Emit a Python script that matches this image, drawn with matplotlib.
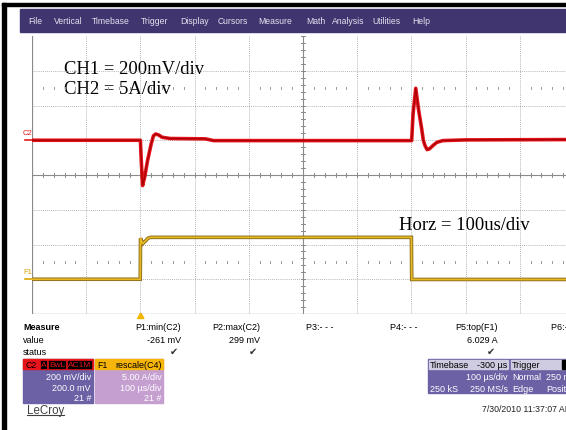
import matplotlib.pyplot as plt
from matplotlib.patches import Rectangle, Polygon

# C2 trace: time (us) and voltage (mV)
c2_t = [-500, -300, -298.5, -296, -292, -287, -280, -276, -272, -266, -260, -245, -180, -165,
        200.5, 203, 208, 213, 219, 222, 225, 229, 233, 240, 247, 258, 300, 500]
c2_mv = [0, 0, -110, -261, -210, -120, -20, 25, 36, 30, 17, 10, 8, -2,
         -2, 150, 299, 180, 65, 0, -30, -54, -50, -30, -12, -2, 2, 4]

# F1 trace: time (us) and current (A)
f1_t = [-500, -300.3, -299.8, -296, -292, -286, -281, 200, 200.6, 500]
f1_a = [0, 0, 5.9, 5.1, 5.4, 5.9, 6.03, 6.03, -0.03, -0.03]

c2_scale, c2_offset = 200, 200   # mV/div, mV
f1_scale, f1_pos = 5, -3         # A/div, div

menu = ['File', 'Vertical', 'Timebase', 'Trigger', 'Display', 'Cursors',
        'Measure', 'Math', 'Analysis', 'Utilities', 'Help']
menu_x = [28, 54, 92, 141, 180, 218, 258, 306, 332, 372, 412]

meas_names = ['P1:min(C2)', 'P2:max(C2)', 'P3:- - -', 'P4:- - -', 'P5:top(F1)', 'P6:- - -']
meas_vals = ['-261 mV', '299 mV', '', '', '6.029 A', '']
meas_x = [181, 260, 333, 417, 498, 579]

W, H = 566, 431
fig = plt.figure(figsize=(W / 100, H / 100), dpi=100)
bg = fig.add_axes([0, 0, 1, 1])
bg.set_xlim(0, W)
bg.set_ylim(H, 0)
bg.axis('off')

sans = 'Liberation Sans'

def txt(x, y, s, size=6.5, **kw):
    kw.setdefault('family', sans)
    kw.setdefault('va', 'center')
    bg.text(x, y, s, fontsize=size, **kw)

# frame and menu bar
bg.add_patch(Rectangle((2, 4), 4, H, color='black'))
bg.add_patch(Rectangle((2, 4), W, 2.5, color='black'))
bg.add_patch(Rectangle((20, 10), W - 20, 23, color='#40356f'))
for name, x in zip(menu, menu_x):
    txt(x, 21, name, size=6.2, color='#e4e2ee')

# channel labels on the left
txt(23, 134, 'C2', size=5.5, color='#e01818')
bg.plot([25, 32], [140.5, 140.5], color='#e01818', lw=1.2)
txt(23, 273, 'F1', size=5.5, color='#d9a400')
bg.plot([25, 32], [280, 280], color='#d9a400', lw=1.2)

# trigger marker
bg.add_patch(Polygon([[137.5, 319.5], [144, 319.5], [140.7, 314]], color='#f2b600'))

# measurement table
txt(23, 328, 'Measure', weight='bold')
txt(23, 341, 'value')
txt(23, 353, 'status')
for name, val, x in zip(meas_names, meas_vals, meas_x):
    txt(x, 328, name, ha='right')
    if val:
        txt(x, 341, val, ha='right')
        txt(x - 3, 352, '\u2714', size=7, family='DejaVu Sans', ha='right', color='#333333')

# C2 descriptor box
bg.add_patch(Rectangle((23.3, 360), 70, 44, color='#6b61a4'))
bg.add_patch(Rectangle((23.3, 360), 70, 10, color='#e8141c'))
txt(26, 365.5, 'C2', size=6.3, color='black')
for s, x in [('A', 41), ('BwL', 49), ('AC1M', 67.5)]:
    txt(x, 365.5, s, size=6, color='#e8141c',
        bbox=dict(facecolor='black', edgecolor='#e8141c', pad=0.6, lw=0.5))
for s, y in [('200 mV/div', 378), ('200.0 mV', 388.5), ('21 #', 398.5)]:
    txt(91, y, s, ha='right', color='white')

# F1 descriptor box
bg.add_patch(Rectangle((95, 360), 67.5, 44, color='#c69fd1'))
bg.add_patch(Rectangle((95, 360), 67.5, 10, color='#f5b50a'))
txt(97, 365.5, 'F1', size=6.3, color='black')
txt(161.5, 365.5, 'rescale(C4)', ha='right', color='black')
for s, y in [('5.00 A/div', 378), ('100 \u00b5s/div', 388.5), ('21 #', 398.5)]:
    txt(162, y, s, ha='right', color='white')

# timebase box
bg.add_patch(Rectangle((427.7, 359.5), 81, 34, color='#6b61a4'))
bg.add_patch(Rectangle((428.5, 360.5), 79.5, 9.5, color='#cfcbe0'))
txt(430, 365.5, 'Timebase', color='black')
txt(507.5, 365.5, '-300 \u00b5s', ha='right', color='black')
txt(507.5, 378, '100 \u00b5s/div', ha='right', color='white')
txt(429.5, 389.5, '250 kS', color='white')
txt(507.5, 389.5, '250 MS/s', ha='right', color='white')

# trigger box
bg.add_patch(Rectangle((510, 359.5), 60, 34, color='#6b61a4'))
bg.add_patch(Rectangle((511, 360.5), 59, 9.5, color='#cfcbe0'))
bg.add_patch(Rectangle((562, 361), 6, 8.5, color='black'))
txt(512, 365.5, 'Trigger', color='black')
txt(512, 378, 'Normal', color='white')
txt(546.5, 378, '250 mV', color='white')
txt(512, 389.5, 'Edge', color='white')
txt(546.5, 389.5, 'Positive', color='white')

txt(26.5, 411, 'LeCroy', size=8.3, color='#404040')
bg.plot([26.5, 63.5], [416.5, 416.5], color='#404040', lw=0.8)
txt(482, 410, '7/30/2010 11:37:07 AM', size=6.3, color='#222222')

# scope grid
ax = fig.add_axes([32 / W, 1 - 315 / H, 542 / W, 278 / H])
ax.set_xlim(-500, 500)
ax.set_ylim(-4, 4)
ax.axis('off')
grid_kw = dict(color='#9a9a9a', lw=0.6, linestyle=(0, (1, 1.5)))
for t in range(-400, 500, 100):
    if t != 0:
        ax.axvline(t, **grid_kw)
for d in range(-3, 4):
    if d != 0:
        ax.axhline(d, **grid_kw)
ax.axhline(0, color='#8a8a8a', lw=0.8)
ax.axvline(0, color='#8a8a8a', lw=0.8)
ax.axvline(-500, color='#8a8a8a', lw=0.9)
ax.axhline(-4, color='#8a8a8a', lw=0.9)
for i in range(-25, 26):
    t = i * 20
    ax.plot([t, t], [-0.06, 0.06], color='#8a8a8a', lw=0.7)
    if i % 5 != 0:
        ax.plot([t, t], [2.48, 2.52], color='#9a9a9a', lw=0.7)
        ax.plot([t, t], [-2.52, -2.48], color='#9a9a9a', lw=0.7)
for i in range(-20, 21):
    d = i * 0.2
    ax.plot([-4, 4], [d, d], color='#8a8a8a', lw=0.7)

# traces
c2_div = [(v + c2_offset) / c2_scale for v in c2_mv]
f1_div = [a / f1_scale + f1_pos for a in f1_a]
ax.plot(f1_t, f1_div, color='#8f7220', lw=2.6, solid_joinstyle='miter')
ax.plot(f1_t, f1_div, color='#e8b820', lw=1.2)
ax.plot(c2_t, c2_div, color='#e3141c', lw=2.6)
ax.plot(c2_t, c2_div, color='#a80000', lw=0.9)

serif = 'Liberation Serif'
bg.text(64, 73.5, 'CH1 = 200mV/div', fontsize=13.4, family=serif)
bg.text(64, 93.5, 'CH2 = 5A/div', fontsize=13.4, family=serif)
bg.text(399, 230, 'Horz = 100us/div', fontsize=13.4, family=serif)

fig.savefig('out.png', dpi=100)
